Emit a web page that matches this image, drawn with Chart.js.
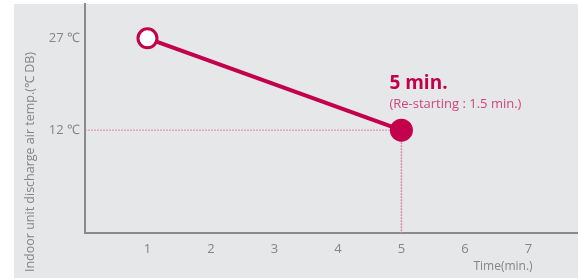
<!DOCTYPE html>
<html><head><meta charset="utf-8">
<script src="https://cdn.jsdelivr.net/npm/chart.js@4/dist/chart.umd.min.js"></script>
<style>html,body{margin:0;padding:0;background:#fff;}#wrap{width:579px;height:280px;}</style>
</head><body><div id="wrap"><canvas id="c" width="579" height="280"></canvas></div>
<script>
const times = [1, 5];
const temps = [27, 12];
const xTicks = [1, 2, 3, 4, 5, 6, 7];
const yTicks = [12, 27];
const yTickLabels = ['12 ℃', '27 ℃'];
const yTitle = 'Indoor unit discharge air temp.(℃ DB)';
const xTitle = 'Time(min.)';
const noteMain = '5 min.';
const noteSub = '(Re-starting : 1.5 min.)';

const RED = '#c3004b';
const PINK = '#e585ab';
const GRAY = '#858585';
const FONT = "'Open Sans', sans-serif";
const X_MIN = 0.016, X_MAX = 7.766, Y_MIN = -4.8, Y_MAX = 32.6;

const mainPts = times.map((t, i) => ({x: t, y: temps[i]}));
const endX = times[times.length - 1], endY = temps[temps.length - 1];

function noPad(s) { s.paddingTop = 0; s.paddingBottom = 0; s.paddingLeft = 0; s.paddingRight = 0; }

const bgPlugin = {
  id: 'bg',
  beforeDraw(chart) {
    const ctx = chart.ctx;
    ctx.save();
    ctx.fillStyle = '#e6e7e9';
    ctx.fillRect(14, 4, 564, 274);
    ctx.restore();
  },
  afterDraw(chart) {
    const ctx = chart.ctx;
    const xs = chart.scales.x, ys = chart.scales.y;
    ctx.save();
    ctx.fillStyle = GRAY;
    ctx.font = '12.5px ' + FONT;
    ctx.textAlign = 'center';
    ctx.textBaseline = 'middle';
    ctx.translate(30, 162);
    ctx.rotate(-Math.PI / 2);
    ctx.fillText(yTitle, 0, 0);
    ctx.restore();
    ctx.save();
    ctx.fillStyle = GRAY;
    ctx.font = '12px ' + FONT;
    ctx.textAlign = 'center';
    ctx.textBaseline = 'middle';
    ctx.fillText(xTitle, 503, 267);
    const px = xs.getPixelForValue(endX), py = ys.getPixelForValue(endY);
    ctx.textAlign = 'left';
    ctx.textBaseline = 'alphabetic';
    ctx.fillStyle = RED;
    ctx.font = 'bold 19px ' + FONT;
    ctx.fillText(noteMain, px - 12, py - 41);
    ctx.fillStyle = '#d0457a';
    ctx.font = '13px ' + FONT;
    ctx.fillText(noteSub, px - 12, py - 22);
    ctx.restore();
  }
};

new Chart(document.getElementById('c'), {
  type: 'line',
  data: {
    datasets: [
      {
        data: mainPts,
        borderColor: RED,
        borderWidth: 4,
        pointRadius: [9.5, 11.5],
        pointBackgroundColor: ['#ffffff', RED],
        pointBorderColor: RED,
        pointBorderWidth: [3, 0],
        tension: 0
      },
      {
        data: [{x: X_MIN, y: endY}, {x: endX, y: endY}],
        borderColor: PINK, borderWidth: 1, borderDash: [2, 1], pointRadius: 0
      },
      {
        data: [{x: endX, y: endY}, {x: endX, y: Y_MIN}],
        borderColor: PINK, borderWidth: 1.5, borderDash: [2, 1], pointRadius: 0
      }
    ]
  },
  options: {
    responsive: false,
    animation: false,
    devicePixelRatio: 1,
    layout: {autoPadding: false, padding: {left: 14, top: 4, right: 2, bottom: 2}},
    plugins: {legend: {display: false}, tooltip: {enabled: false}},
    scales: {
      x: {
        type: 'linear', min: X_MIN, max: X_MAX,
        grid: {display: false, drawTicks: false},
        border: {color: '#8a8a8a', width: 2},
        afterBuildTicks(s) { s.ticks = xTicks.map(v => ({value: v})); },
        afterFit(s) { s.height = 45; noPad(s); },
        ticks: {color: GRAY, font: {family: FONT, size: 13}, padding: 8, maxRotation: 0, autoSkip: false}
      },
      y: {
        type: 'linear', min: Y_MIN, max: Y_MAX,
        grid: {display: false, drawTicks: false},
        border: {color: '#8a8a8a', width: 2},
        afterBuildTicks(s) { s.ticks = yTicks.map(v => ({value: v})); },
        afterFit(s) { s.width = 71; noPad(s); },
        ticks: {
          color: GRAY, font: {family: FONT, size: 13}, padding: 5, autoSkip: false,
          callback(v) { const i = yTicks.indexOf(v); return i >= 0 ? yTickLabels[i] : ''; }
        }
      }
    }
  },
  plugins: [bgPlugin]
});
</script></body></html>
